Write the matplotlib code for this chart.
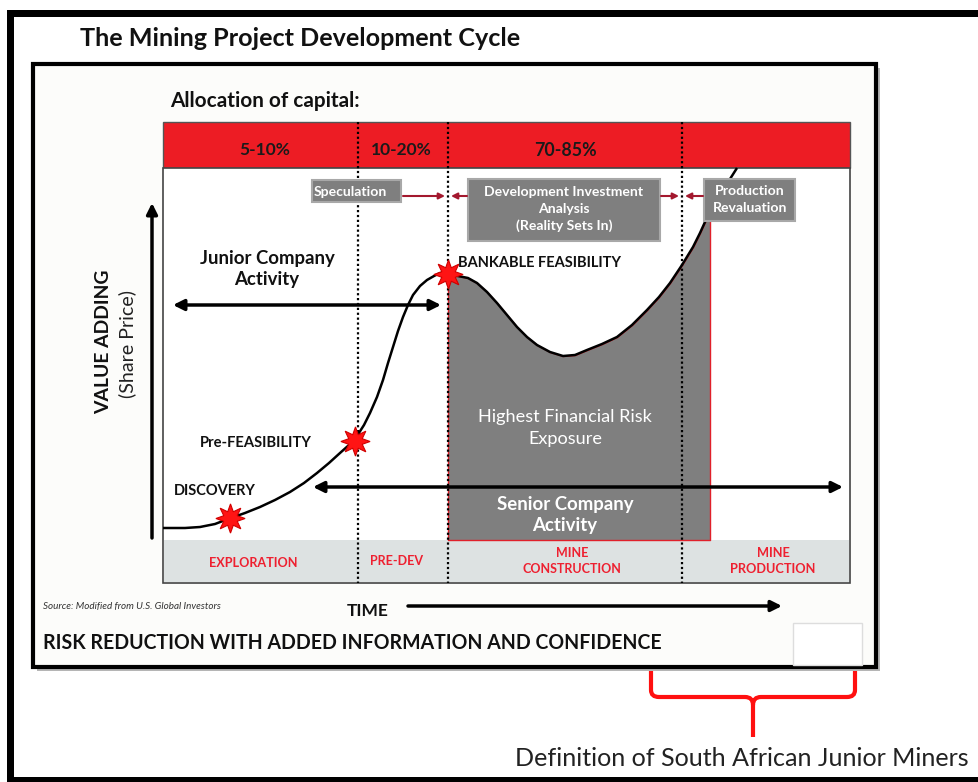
import matplotlib
matplotlib.use('Agg')
import matplotlib.pyplot as plt
from matplotlib.patches import Rectangle, FancyArrowPatch, PathPatch
from matplotlib.path import Path
import numpy as np

plt.rcParams['font.family'] = ['Lato', 'DejaVu Sans']

# ---------------- data (pixel-like units) ----------------
allocation_labels = ['5-10%', '10-20%', '70-85%']
allocation_x = [265, 401, 565]
stage_labels = ['EXPLORATION', 'PRE-DEV', 'MINE\nCONSTRUCTION', 'MINE\nPRODUCTION']
stage_x = [253, 397, 572, 773]
stage_w = [88, 53, 99, 85]
phase_boundaries = [358, 448, 682]
milestone_labels = ['DISCOVERY', 'Pre-FEASIBILITY', 'BANKABLE FEASIBILITY']
milestone_x = [230, 355, 448]
milestone_y = [518, 441, 274]
curve_x = [163, 185, 200, 215, 228, 245, 260, 275, 290, 304, 317, 329, 340, 349, 357,
           364, 370, 377, 383, 388, 393, 398, 403, 408, 413, 420, 427, 434, 440, 448,
           458, 468, 477, 487, 497, 507, 517, 527, 537, 550, 563, 575, 587, 602, 617,
           632, 647, 659, 670, 682, 693, 700, 705, 710, 720, 730, 737]
curve_y = [528, 528, 527, 524, 519, 513, 507, 500, 492, 483, 473, 463, 453, 445, 436,
           425, 413, 397, 380, 363, 347, 331, 317, 305, 295, 286, 280, 276, 273, 274,
           276, 278, 283, 292, 303, 315, 327, 337, 345, 352, 356, 355, 350, 344, 337,
           325, 310, 297, 283, 265, 247, 233, 222, 212, 197, 179, 168]
fill_start, fill_end, fill_bottom = 448, 710, 540

# ---------------- figure ----------------
fig = plt.figure(figsize=(9.79, 7.82), dpi=100)
ax = fig.add_axes([0, 0, 1, 1])
ax.set_xlim(0, 979)
ax.set_ylim(782, 0)
ax.axis('off')

texts = []
def T(x, y, s, w, ha='center', va='center', rot=0, **kw):
    t = ax.text(x, y, s, ha=ha, va=va, rotation=rot, fontsize=10, zorder=10, **kw)
    texts.append((t, w, rot))
    return t

# outer frame
ax.add_patch(Rectangle((7, 10), 972, 7, fc='black', ec='none', zorder=1))
ax.add_patch(Rectangle((7, 10), 7, 772, fc='black', ec='none', zorder=1))
ax.add_patch(Rectangle((7, 777), 972, 5, fc='black', ec='none', zorder=1))

# inner frame with shadow
ax.add_patch(Rectangle((37, 68), 843, 603, fc='#B5B5B5', ec='none', zorder=1))
ax.add_patch(Rectangle((33, 64), 843, 603, fc='#FCFCFA', ec='black', lw=3, zorder=1.5))

# red allocation band, main box, gray stage band
ax.add_patch(Rectangle((163, 122), 687, 46, fc='#ED1C24', ec='#555555', lw=1, zorder=2))
ax.add_patch(Rectangle((163, 168), 687, 415, fc='white', ec='#444444', lw=1.2, zorder=2))
ax.add_patch(Rectangle((163.6, 540), 685.8, 42.4, fc='#DDE2E2', ec='none', zorder=2.1))

# filled area under curve (highest risk)
cx = np.array(curve_x, float)
cy = np.array(curve_y, float)
sel = (cx >= fill_start) & (cx <= fill_end)
ax.fill_between(cx[sel], cy[sel], fill_bottom, fc='#7F7F7F', ec='#E0202A', lw=1, zorder=3)

# curve
ax.plot(cx, cy, color='black', lw=1.8, zorder=4, solid_capstyle='butt')

# dotted phase lines
for xb in phase_boundaries:
    ax.plot([xb, xb], [122, 583], color='black', lw=1.6, ls=(0, (1, 1.2)), zorder=5)

# stars
ax.plot(milestone_x, milestone_y, ls='none', marker=(8, 1, 0), ms=21,
        mfc='#FF1414', mec='#D00000', mew=0.8, zorder=6)

# gray boxes
def gbox(x0, y0, w, h):
    ax.add_patch(Rectangle((x0, y0), w, h, fc='#7F7F7F', ec='#A8A8A8', lw=1.5, zorder=7))
gbox(312, 180, 89, 22)
gbox(468, 179, 192, 62)
gbox(704, 179, 91, 42)

T(350, 191.5, 'Speculation', 73, color='white', fontweight='bold')
T(564, 209, 'Development Investment\nAnalysis\n(Reality Sets In)', 159,
  color='white', fontweight='bold', linespacing=1.45)
T(750, 199.5, 'Production\nRevaluation', 74, color='white', fontweight='bold', linespacing=1.45)

# small red arrows
ac = '#A3182E'
for (xa, xb_) in [(403, 445), (467, 451), (661, 679), (703, 685)]:
    ax.add_patch(FancyArrowPatch((xa, 196), (xb_, 196), arrowstyle='-|>', mutation_scale=9,
                                 color=ac, lw=1.5, shrinkA=0, shrinkB=0, zorder=8))

# black double arrows
for (x0, x1, yy) in [(173, 441, 305), (313, 843, 487)]:
    ax.add_patch(FancyArrowPatch((x0, yy), (x1, yy), arrowstyle='<|-|>', mutation_scale=16,
                                 color='black', lw=2.5, shrinkA=0, shrinkB=0, zorder=8))

# axis arrows
ax.add_patch(FancyArrowPatch((152, 538), (152, 203), arrowstyle='-|>', mutation_scale=16,
                             color='black', lw=2.5, shrinkA=0, shrinkB=0, zorder=8))
ax.add_patch(FancyArrowPatch((408, 606), (782, 606), arrowstyle='-|>', mutation_scale=16,
                             color='black', lw=2.5, shrinkA=0, shrinkB=0, zorder=8))

# small faint white box
ax.add_patch(Rectangle((793, 623), 69, 42, fc='white', ec='#DDDDDD', lw=1, zorder=2))

# red bracket
verts = [(651, 671), (651, 690), (651, 697), (659, 697), (745, 697), (753, 697), (753, 705),
         (753, 737),
         (753, 705), (753, 697), (761, 697), (847, 697), (855, 697), (855, 690), (855, 671)]
codes = [Path.MOVETO, Path.LINETO, Path.CURVE3, Path.CURVE3, Path.LINETO, Path.CURVE3, Path.CURVE3,
         Path.LINETO,
         Path.MOVETO, Path.CURVE3, Path.CURVE3, Path.LINETO, Path.CURVE3, Path.CURVE3, Path.LINETO]
ax.add_patch(PathPatch(Path(verts, codes), fc='none', ec='#FF1010', lw=3, zorder=8))

# texts
dark = '#111111'
T(80, 38, 'The Mining Project Development Cycle', 440, ha='left', color=dark, fontweight='bold')
T(170, 101, 'Allocation of capital:', 190, ha='left', color=dark, fontweight='bold')
alloc_w = [51, 61, 62]
for lab, xx, ww in zip(allocation_labels, allocation_x, alloc_w):
    T(xx, 150, lab, ww, color='#1A1A1A', fontweight='bold')
T(267, 269, 'Junior Company\nActivity', 135, color=dark, fontweight='bold', linespacing=1.35)
T(458, 263, milestone_labels[2], 165, ha='left', color=dark, fontweight='bold')
T(200, 443, milestone_labels[1], 112, ha='left', color=dark, fontweight='bold')
T(174, 491, milestone_labels[0], 82, ha='left', color=dark, fontweight='bold')
T(565, 428, 'Highest Financial Risk\nExposure', 174, color='white', linespacing=1.4)
T(565, 515, 'Senior Company\nActivity', 137, color='white', fontweight='bold', linespacing=1.3)
for lab, xx, ww in zip(stage_labels, stage_x, stage_w):
    yy = 563 if '\n' not in lab else 561
    if lab == 'PRE-DEV':
        yy = 561
    T(xx, yy, lab, ww, color='#EE2030', fontweight='bold', linespacing=1.45)
T(104, 342, 'VALUE ADDING', 145, rot=90, color=dark, fontweight='bold')
T(127, 344, '(Share Price)', 108, rot=90, color='#222222')
T(43, 606, 'Source: Modified from U.S. Global Investors', 178, ha='left', color='#333333',
  fontstyle='italic')
T(347, 611, 'TIME', 42, ha='left', color=dark, fontweight='bold')
T(43, 643, 'RISK REDUCTION WITH ADDED INFORMATION AND CONFIDENCE', 617, ha='left', color=dark,
  fontweight='bold')
T(515, 758, 'Definition of South African Junior Miners', 455, ha='left', color='#222222')

# fit text widths
fig.canvas.draw()
r = fig.canvas.get_renderer()
for t, w, rot in texts:
    bb = t.get_window_extent(renderer=r)
    cur = bb.height if rot else bb.width
    t.set_fontsize(t.get_fontsize() * w / cur)

fig.savefig('out.png', dpi=100, facecolor='white')
